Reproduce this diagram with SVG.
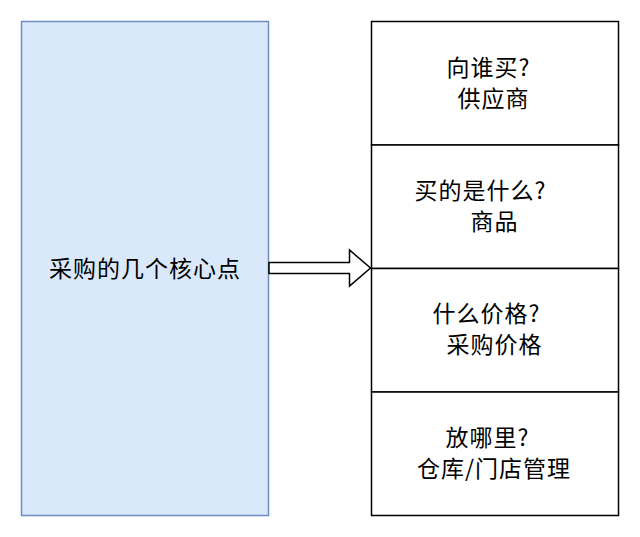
<svg xmlns="http://www.w3.org/2000/svg" width="640" height="537" viewBox="0 0 640 537">
<style>
.t{font-family:"Noto Sans CJK SC","Noto Sans",sans-serif;font-size:23px;letter-spacing:1px;fill:#000;text-anchor:middle}
.box{fill:#fff;stroke:#000;stroke-width:1.5}
</style>
<rect width="640" height="537" fill="#fff"/>
<g id="main">
<rect x="21.5" y="21.5" width="247" height="494" fill="#dae8fc" stroke="#6c8ebf" stroke-width="1.5"/>
<text class="t" x="145" y="277">采购的几个核心点</text>
</g>
<g id="connectors">
<path d="M269,262.5 L349.5,262.5 L349.5,250 L370.5,268 L349.5,286 L349.5,273.5 L269,273.5 Z" fill="#fff" stroke="#000" stroke-width="1.5" stroke-linejoin="miter"/>
</g>
<g id="n1">
<rect class="box" x="371.5" y="21.5" width="247" height="123.5"/>
<text class="t"><tspan x="488.5" y="76">向谁买?</tspan><tspan x="493.5" y="107">供应商</tspan></text>
</g>
<g id="n2">
<rect class="box" x="371.5" y="145" width="247" height="123.5"/>
<text class="t"><tspan x="480.5" y="199">买的是什么?</tspan><tspan x="494.5" y="230">商品</tspan></text>
</g>
<g id="n3">
<rect class="box" x="371.5" y="268.5" width="247" height="123.5"/>
<text class="t"><tspan x="486.5" y="322">什么价格?</tspan><tspan x="494.5" y="353">采购价格</tspan></text>
</g>
<g id="n4">
<rect class="box" x="371.5" y="392" width="247" height="123.5"/>
<text class="t"><tspan x="487.5" y="446">放哪里?</tspan><tspan x="494" y="477">仓库/门店管理</tspan></text>
</g>
</svg>
